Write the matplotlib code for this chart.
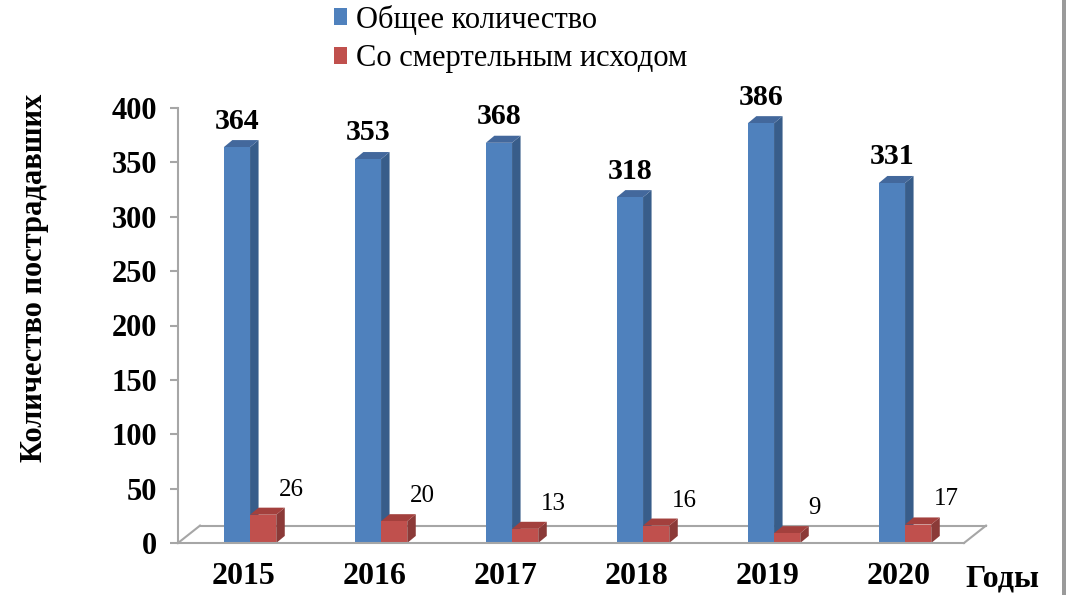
import numpy as np
import matplotlib.pyplot as plt
from matplotlib.patches import Polygon, Rectangle, Patch
from matplotlib.lines import Line2D

# данные
years = ['2015', '2016', '2017', '2018', '2019', '2020']
total = [364, 353, 368, 318, 386, 331]
fatal = [26, 20, 13, 16, 9, 17]
names = ['Общее количество', 'Со смертельным исходом']

plt.rcParams['font.family'] = ['Liberation Serif', 'DejaVu Serif']

blue = ['#4F81BD', '#385D8A', '#43689C']   # front, side, top
red = ['#C0504D', '#8B3A38', '#A3403D']
grey = '#A6A6A6'

W, H = 1066, 595
fig = plt.figure(figsize=(W / 100, H / 100), dpi=100)
ax = fig.add_axes([178 / W, 52 / H, 786 / W, 435 / H])
ax.set_xlim(-0.5, 5.5)
ax.set_ylim(0, 400)

x = np.arange(len(years))
w = 0.2
ddx, ddy = 0.065, 6.5      # глубина столбиков
fdx, fdy = 0.168, 16       # глубина "пола"


def bars3d(xs, vals, col, z):
    rects = ax.bar(xs, vals, w, align='edge', color=col[0], linewidth=0, zorder=z)
    for r in rects:
        x0, x1, h = r.get_x(), r.get_x() + r.get_width(), r.get_height()
        side = [(x1, 0), (x1 + ddx, ddy), (x1 + ddx, h + ddy), (x1, h)]
        top = [(x0, h), (x0 + ddx, h + ddy), (x1 + ddx, h + ddy), (x1, h)]
        ax.add_patch(Polygon(side, closed=True, color=col[1], lw=0, zorder=z - 0.5))
        ax.add_patch(Polygon(top, closed=True, color=col[2], lw=0, zorder=z - 0.5))
    return rects


bars3d(x - 0.15, total, blue, 3)
bars3d(x + 0.05, fatal, red, 5)

# пол
x0, x1 = ax.get_xlim()
kw = dict(color=grey, lw=1.5, clip_on=False)
ax.add_line(Line2D([x0, x1], [0, 0], zorder=6, **kw))
ax.add_line(Line2D([x0 + fdx, x1 + fdx], [fdy, fdy], zorder=1, **kw))
ax.add_line(Line2D([x0, x0 + fdx], [0, fdy], zorder=1, **kw))
ax.add_line(Line2D([x1, x1 + fdx], [0, fdy], zorder=6, **kw))

for s in ['top', 'right', 'bottom']:
    ax.spines[s].set_visible(False)
ax.spines['left'].set_color(grey)
ax.spines['left'].set_linewidth(1.5)
ax.set_yticks(np.arange(0, 401, 50))
ax.tick_params(axis='y', direction='out', length=6, width=1.5, color=grey,
               labelsize=22, pad=9)
ax.set_xticks(x, years)
ax.tick_params(axis='x', length=0, labelsize=23, pad=14)
for t in ax.get_xticklabels() + ax.get_yticklabels():
    t.set_fontweight('bold')

for i in range(len(years)):
    ax.annotate(str(total[i]), (x[i] - 0.05, total[i] + ddy), xytext=(0, 4),
                textcoords='offset points', ha='center', va='bottom',
                fontsize=21.5, fontweight='bold')
    ax.annotate(str(fatal[i]), (x[i] + 0.15, fatal[i] + ddy), xytext=(20, 5),
                textcoords='offset points', ha='center', va='bottom', fontsize=18)

fig.text(35 / W, 1 - 278 / H, 'Количество пострадавших', rotation=90,
         ha='center', va='center', fontsize=22, fontweight='bold')
fig.text(1002 / W, 1 - 587 / H, 'Годы', ha='center', va='baseline',
         fontsize=23, fontweight='bold')

handles = [Patch(facecolor=blue[0]), Patch(facecolor=red[0])]
fig.legend(handles, names, loc='upper left', bbox_to_anchor=(332 / W, 1 - 3 / H),
           frameon=False, fontsize=22, handlelength=0.45, handleheight=0.45,
           handletextpad=0.3, labelspacing=0.32, borderaxespad=0, borderpad=0.05)

fig.add_artist(Rectangle((1062 / W, 0), 4 / W, 1, transform=fig.transFigure,
                         color='#9A9A9A', lw=0))

fig.savefig('out.png', dpi=100, facecolor='white')
